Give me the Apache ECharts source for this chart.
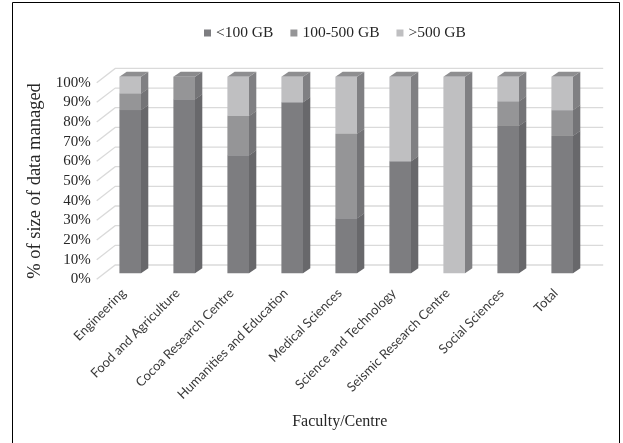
<!DOCTYPE html>
<html>
<head>
<meta charset="utf-8">
<script src="https://cdn.jsdelivr.net/npm/echarts@6/dist/echarts.min.js"></script>
<style>
  html, body { margin: 0; padding: 0; background: #fff; }
  #chart { width: 623px; height: 443px; }
</style>
</head>
<body>
<div id="chart"></div>
<script>
// Share of data size managed, by faculty / centre (percent of each bar)
const faculties = [
  'Engineering', 'Food and Agriculture', 'Cocoa Research Centre',
  'Humanities and Education', 'Medical Sciences', 'Science and Technology',
  'Seismic Research Centre', 'Social Sciences', 'Total'
];
const seriesNames = ['<100 GB', '100-500 GB', '>500 GB'];
const under100 = [83, 88.5, 60, 87, 28, 57, 0, 75, 70];
const from100to500 = [8.5, 11.5, 20, 0, 43, 0, 0, 12.5, 13];
const over500 = [8.5, 0, 20, 13, 29, 43, 100, 12.5, 17];
const yTicks = [0, 10, 20, 30, 40, 50, 60, 70, 80, 90, 100];

// pseudo-3D geometry (pixels)
const DEPTH_X = 7.3, DEPTH_Y = 5;          // bar side/top depth
const FRONT = { dx: -6.5, dy: 6 };          // floor front edge vs bar plane
const BACK = { dx: 12, dy: -8.3 };          // back wall vs bar plane
const BAR_RATIO = 0.4;

// bar plane (grid 0) and the front edge plane (grid 1) that carries the labels
const BAR_GRID = { left: 103.2, right: 33.8, top: 76.7, bottom: 169.7 };
const FRONT_GRID = {
  left: BAR_GRID.left + FRONT.dx, right: BAR_GRID.right - FRONT.dx,
  top: BAR_GRID.top + FRONT.dy, bottom: BAR_GRID.bottom - FRONT.dy
};

const frontColors = ['#7d7d80', '#959597', '#bfbfc1'];
const sideColors = ['#68686b', '#747477', '#808083'];
const topColors = ['#88888a', '#8a8a8c', '#8e8e90'];

const stacks = [under100, from100to500, over500];

function stackData(k) {
  return faculties.map((_, i) => {
    let base = 0;
    for (let j = 0; j < k; j++) base += stacks[j][i];
    return [i, base, stacks[k][i]];
  });
}

function barRenderer(k) {
  return function (params, api) {
    const cat = api.value(0), base = api.value(1), val = api.value(2);
    if (!val) return null;
    const bw = api.size([1, 0])[0] * BAR_RATIO;
    const p0 = api.coord([cat, base]);
    const p1 = api.coord([cat, base + val]);
    const x0 = p0[0] - bw / 2, x1 = x0 + bw, yb = p0[1], yt = p1[1];
    return {
      type: 'group',
      children: [
        { type: 'polygon', shape: { points: [[x1, yb], [x1, yt], [x1 + DEPTH_X, yt - DEPTH_Y], [x1 + DEPTH_X, yb - DEPTH_Y]] },
          style: { fill: sideColors[k] } },
        { type: 'polygon', shape: { points: [[x0, yt], [x0 + DEPTH_X, yt - DEPTH_Y], [x1 + DEPTH_X, yt - DEPTH_Y], [x1, yt]] },
          style: { fill: topColors[k] } },
        { type: 'rect', shape: { x: x0, y: yt, width: bw, height: yb - yt },
          style: { fill: frontColors[k] } }
      ]
    };
  };
}

function gridRenderer(params, api) {
  const cs = params.coordSys;
  const y = api.coord([0, api.value(1)])[1];
  return {
    type: 'polyline',
    shape: { points: [
      [cs.x + FRONT.dx, y + FRONT.dy],
      [cs.x + BACK.dx, y + BACK.dy],
      [cs.x + cs.width + BACK.dx + 2, y + BACK.dy]
    ] },
    style: { stroke: '#dadada', lineWidth: 1.3, fill: null }
  };
}

const serif = '"Liberation Serif", "Times New Roman", serif';
const hiddenAxis = { axisLine: { show: false }, axisTick: { show: false }, axisLabel: { show: false }, splitLine: { show: false } };

const chart = echarts.init(document.getElementById('chart'), null, { renderer: 'canvas' });
chart.setOption({
  animation: false,
  backgroundColor: '#fff',
  graphic: [{
    type: 'rect', z: 100, silent: true,
    shape: { x: 12.5, y: 2.5, width: 607, height: 470 },
    style: { fill: null, stroke: '#000', lineWidth: 1 }
  }],
  legend: {
    data: seriesNames,
    left: 199, top: 20,
    icon: 'rect', itemWidth: 7, itemHeight: 7, itemGap: 17,
    textStyle: { fontFamily: serif, fontSize: 15.5, color: '#262626' }
  },
  grid: [BAR_GRID, FRONT_GRID],
  xAxis: [
    Object.assign({ type: 'category', data: faculties, gridIndex: 0 }, hiddenAxis),
    {
      type: 'category',
      gridIndex: 1,
      data: faculties,
      name: 'Faculty/Centre',
      nameLocation: 'middle',
      nameGap: 134,
      nameTextStyle: { fontFamily: serif, fontSize: 16, color: '#262626' },
      axisLine: { show: false },
      axisTick: { show: false },
      axisLabel: { rotate: 45, margin: 11.7, interval: 0, fontFamily: 'Lato, "Open Sans", sans-serif', fontSize: 13, color: '#3a3a3a' }
    }
  ],
  yAxis: [
    Object.assign({ type: 'value', min: 0, max: 100, interval: 10, gridIndex: 0 }, hiddenAxis),
    {
      type: 'value',
      gridIndex: 1,
      min: 0, max: 100, interval: 10,
      name: '% of size of data managed',
      nameLocation: 'middle',
      nameRotate: 90,
      nameGap: 45,
      nameTextStyle: { fontFamily: serif, fontSize: 18.5, color: '#262626' },
      axisLine: { show: false },
      axisTick: { show: false },
      splitLine: { show: false },
      axisLabel: { formatter: '{value}%', margin: 6, fontFamily: serif, fontSize: 15, color: '#262626' }
    }
  ],
  series: [
    {
      type: 'custom', name: 'gridlines', silent: true, z: 1,
      xAxisIndex: 0, yAxisIndex: 0,
      renderItem: gridRenderer,
      data: yTicks.map(v => [0, v])
    }
  ].concat(seriesNames.map((name, k) => ({
    type: 'custom',
    name: name,
    z: 2 + k,
    xAxisIndex: 0, yAxisIndex: 0,
    itemStyle: { color: frontColors[k] },
    renderItem: barRenderer(k),
    encode: { x: 0, y: [1, 2] },
    data: stackData(k)
  })))
});
</script>
</body>
</html>
